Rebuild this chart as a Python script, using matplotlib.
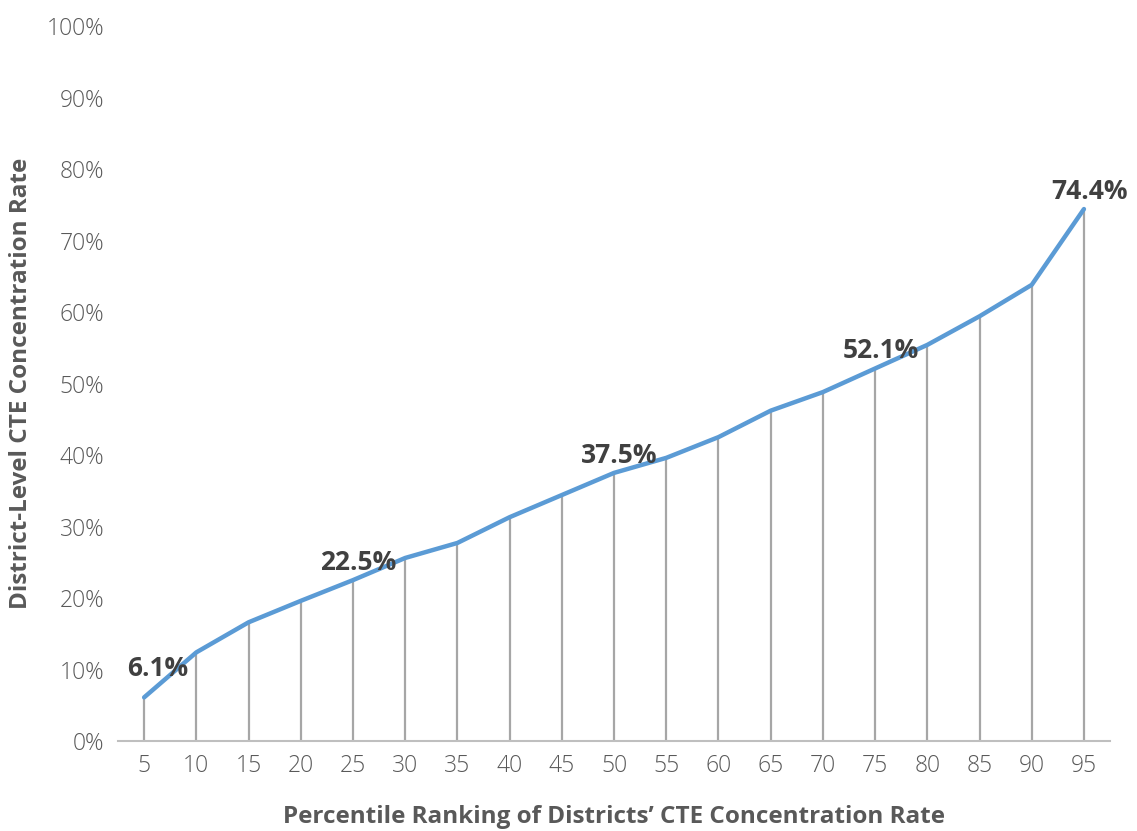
import matplotlib.pyplot as plt
from matplotlib.ticker import FuncFormatter

# percentile ranking vs district-level CTE concentration rate (%)
percentiles = [5, 10, 15, 20, 25, 30, 35, 40, 45, 50, 55, 60, 65, 70, 75, 80, 85, 90, 95]
rates = [6.1, 12.4, 16.6, 19.6, 22.5, 25.6, 27.7, 31.3, 34.4, 37.5,
         39.6, 42.5, 46.2, 48.8, 52.1, 55.4, 59.4, 63.8, 74.4]
labelled = [5, 25, 50, 75, 95]

plt.rcParams['font.family'] = ['Open Sans', 'DejaVu Sans']

fig = plt.figure(figsize=(11.37, 8.31), dpi=100)
ax = fig.add_axes([0.1038, 0.1083, 0.8725, 0.8604])

# drop lines from the axis up to each point
ax.vlines(percentiles, 0, rates, color='#A6A6A6', lw=1.6, zorder=1)
ax.plot(percentiles, rates, color='#5B9BD5', lw=3.2, solid_capstyle='round',
        solid_joinstyle='round', zorder=2)

for p, r in zip(percentiles, rates):
    if p in labelled:
        off = (10, 11) if p == 5 else (4, 3)
        ax.annotate(f"{r:.1f}%", (p, r), xytext=off, textcoords='offset points',
                    ha='center', va='bottom', fontsize=19, fontweight='bold',
                    color='#404040', zorder=3)

ax.set_xlim(2.5, 97.5)
ax.set_ylim(0, 100)
ax.set_xticks(percentiles)
ax.set_yticks(range(0, 101, 10))
ax.yaxis.set_major_formatter(FuncFormatter(lambda v, _: f"{v:.0f}%"))

for s in ['top', 'right', 'left']:
    ax.spines[s].set_visible(False)
ax.spines['bottom'].set_color('#BFBFBF')
ax.spines['bottom'].set_linewidth(1.5)
ax.tick_params(axis='both', length=0, labelsize=16.5, labelcolor='#595959')
ax.tick_params(axis='x', pad=9)
ax.tick_params(axis='y', pad=10)
for lab in ax.get_xticklabels() + ax.get_yticklabels():
    lab.set_fontweight('light')

ax.set_xlabel("Percentile Ranking of Districts\u2019 CTE Concentration Rate",
              fontsize=17.5, fontweight='bold', color='#595959', labelpad=20)
ax.set_ylabel("District-Level CTE Concentration Rate",
              fontsize=17.5, fontweight='bold', color='#595959', labelpad=10)

fig.savefig('out.png', dpi=100)
